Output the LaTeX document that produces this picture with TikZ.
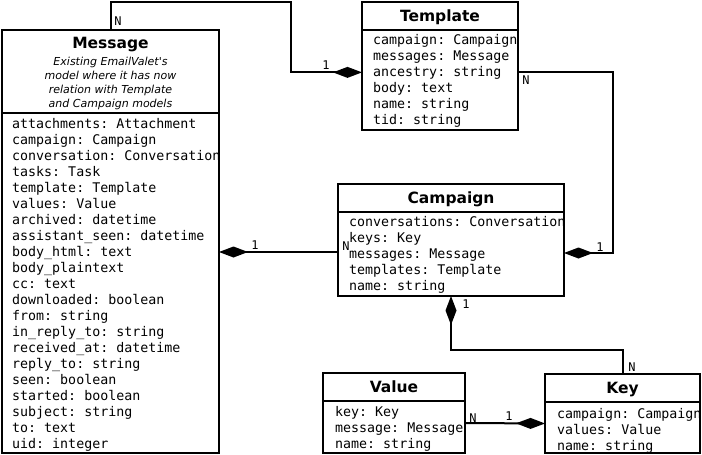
\documentclass[tikz,border=0pt]{standalone}
\usepackage{fontspec}
\setmainfont{DejaVu Sans}
\setmonofont{DejaVu Sans Mono}
\usetikzlibrary{arrows.meta}
\tikzset{
  classbox/.style={draw, rectangle, line width=2pt, inner sep=0pt, outer sep=0pt
  },
  classname/.style={anchor=base, inner sep=0pt, font=\fontsize{15.5}{18}\selectfont\bfseries
  },
  classnote/.style={anchor=base, inner sep=0pt, font=\fontsize{11}{14}\selectfont\itshape
  },
  attr/.style={anchor=base west, inner sep=0pt, font=\fontsize{13.3}{16}\selectfont\ttfamily
  },
  card/.style={inner sep=0pt, font=\fontsize{12}{13}\selectfont\ttfamily
  },
  comp/.style={line width=2pt, -{Diamond[length=29pt, width=11pt]}
  }
}

\begin{document}
\begin{tikzpicture}[x=1pt, y=-1pt]
 \useasboundingbox (0,0) rectangle (702,455);

 \node[classbox, minimum width=217pt, minimum height=423pt] (msg) at (110.5, 241.5) {};
 \node[classbox, minimum width=156pt, minimum height=128pt] (tpl) at (440, 66) {};
 \node[classbox, minimum width=226pt, minimum height=112pt] (cmp) at (451, 240) {};
 \node[classbox, minimum width=142pt, minimum height=80pt] (val) at (394, 413) {};
 \node[classbox, minimum width=155pt, minimum height=79pt] (key) at (622.5, 413.5) {};

 \draw[line width=2pt] (msg.west |- 0,113) -- (msg.east |- 0,113);
 \draw[line width=2pt] (tpl.west |- 0,30) -- (tpl.east |- 0,30);
 \draw[line width=2pt] (cmp.west |- 0,212) -- (cmp.east |- 0,212);
 \draw[line width=2pt] (val.west |- 0,401) -- (val.east |- 0,401);
 \draw[line width=2pt] (key.west |- 0,402) -- (key.east |- 0,402);

 \node[classname] (msg-name) at (110.5, 48) {Message};
 \node[classname] (tpl-name) at (440, 21) {Template};
 \node[classname] (cmp-name) at (451, 203) {Campaign};
 \node[classname] (val-name) at (394, 392) {Value};
 \node[classname] (key-name) at (622.5, 393) {Key};

 \foreach \l [count=\i] in {Existing EmailValet\textquotesingle s, model where it has now, relation with Template, and Campaign models} {
   \node[classnote] (msg-note-\i) at (110.5, {51+14*\i}) {\l};
  }

 \foreach \a [count=\i] in {attachments: Attachment, campaign: Campaign, conversation: Conversation,
   tasks: Task, template: Template, values: Value, archived: datetime, assistant\_seen: datetime,
   body\_html: text, body\_plaintext, cc: text, downloaded: boolean, from: string,
   in\_reply\_to: string, received\_at: datetime, reply\_to: string, seen: boolean,
   started: boolean, subject: string, to: text, uid: integer} {
   \node[attr] (msg-\i) at (12, {112+16*\i}) {\a};
  }
 \foreach \a [count=\i] in {campaign: Campaign, messages: Message, ancestry: string,
   body: text, name: string, tid: string} {
   \node[attr] (tpl-\i) at (373, {28+16*\i}) {\a};
  }
 \foreach \a [count=\i] in {conversations: Conversation, keys: Key, messages: Message,
   templates: Template, name: string} {
   \node[attr] (cmp-\i) at (349, {210+16*\i}) {\a};
  }
 \foreach \a [count=\i] in {key: Key, message: Message, name: string} {
   \node[attr] (val-\i) at (335, {400+16*\i}) {\a};
  }
 \foreach \a [count=\i] in {campaign: Campaign, values: Value, name: string} {
   \node[attr] (key-\i) at (557, {402+16*\i}) {\a};
  }

 \coordinate (mtbend) at (291, 2);
 \coordinate (tcbend) at (613, 253);
 \coordinate (ckbend) at (451, 350);
 \draw[comp] (msg.north) |- (mtbend) |- (tpl.west |- tpl-3);
 \draw[comp] (tpl.east |- tpl-3) -| (tcbend) -- (cmp.east |- tcbend);
 \draw[comp] (cmp.west |- 0,252) -- (msg.east |- 0,252);
 \draw[comp] (key.north) |- (ckbend) -- (cmp.south);
 \draw[comp] ([yshift=-10pt]val.east) -- ([yshift=-10pt]key.west);

 \node[card] (msgtpl-n) at (118, 21) {N};
 \node[card] (msgtpl-1) at (326, 65) {1};
 \node[card] (tplcmp-n) at (526, 80) {N};
 \node[card] (tplcmp-1) at (600, 247) {1};
 \node[card] (msgcmp-1) at (255, 245) {1};
 \node[card] (msgcmp-n) at (346, 246) {N};
 \node[card] (cmpkey-1) at (466, 304) {1};
 \node[card] (cmpkey-n) at (632, 367) {N};
 \node[card] (valkey-n) at (473, 418) {N};
 \node[card] (valkey-1) at (509, 416) {1};

\end{tikzpicture}
\end{document}
